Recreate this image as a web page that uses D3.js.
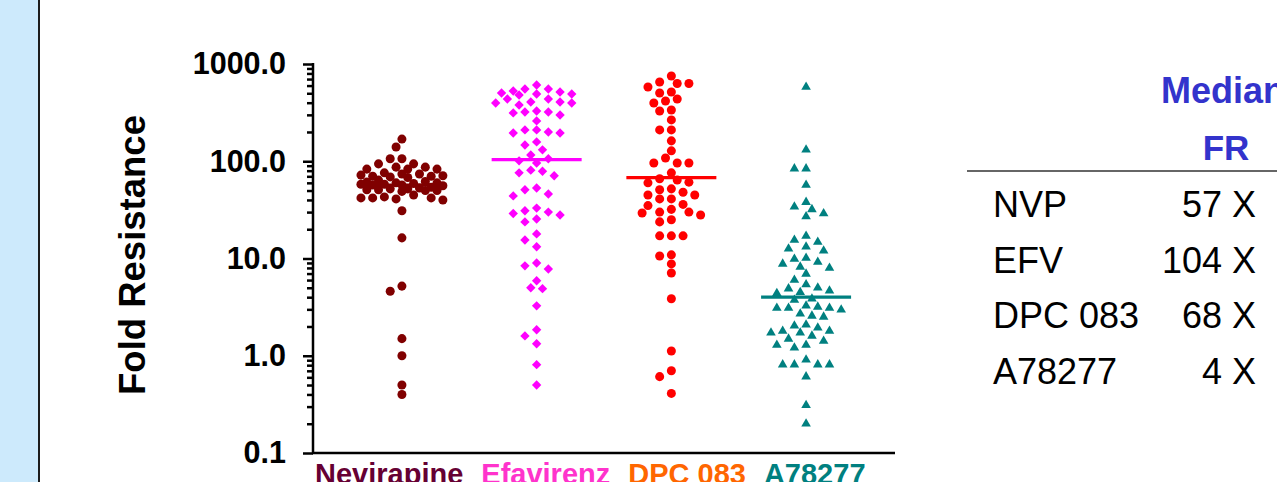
<!DOCTYPE html>
<html>
<head>
<meta charset="utf-8">
<script src="https://cdn.jsdelivr.net/npm/d3@7"></script>
<style>
  body { margin: 0; background: #fff; }
  svg { display: block; font-family: Arial, "Liberation Sans", sans-serif; }
</style>
</head>
<body>
<svg id="chart" width="1277" height="482"></svg>
<script>
// Drug groups and their colours
const categories = ["Nevirapine", "Efavirenz", "DPC 083", "A78277"];
const labelColors = ["#660033", "#ff33cc", "#ff6600", "#008080"];
const markColors = ["#800000", "#ff00ff", "#ff0000", "#008080"];

// Fold resistance of each isolate, per drug
const nevirapine = [169, 140, 106, 106, 94, 94, 87, 87, 83, 83, 83,
  76, 74, 74, 72, 71, 70, 70, 69, 68,
  64, 62, 61, 60, 60, 59, 58, 58, 57, 57, 56,
  54, 53, 52, 52, 51, 51, 50, 50, 49,
  45, 43, 42, 42, 42, 41, 40,
  31, 16.3, 5.2, 4.6, 1.5, 1.0, 0.5, 0.4];
const efavirenz = [608, 553, 516, 528, 553, 504, 492, 480, 492, 437, 407, 397, 379, 397, 407, 437,
  321, 314, 299, 321, 329,
  260,
  210, 195, 195, 200, 210,
  158, 147,
  131,
  116, 101, 96, 106,
  79, 71, 76, 81,
  53, 46, 44, 51,
  31, 29, 25.5, 23.8, 28, 30, 33,
  17.9, 15.5, 13.2,
  9.0, 7.8, 8.4, 5.9, 5.0, 4.9, 3.26, 1.85, 1.60, 1.33, 0.81, 0.50];
const dpc083 = [753, 653, 630, 630, 581, 516, 504, 437, 417, 397, 329, 337, 266, 210, 210, 162,
  128, 108, 96, 96, 96, 76,
  66, 64, 61, 60, 52, 51, 48, 45, 45, 41, 41, 36, 35, 32, 30, 29.4, 28, 30, 25, 23.8,
  17.1, 17.1, 17.1, 10.9, 10.6, 8.8, 7.1, 3.85, 1.12, 0.70, 0.61, 0.41];
const a78277 = [581, 131, 84, 84, 57, 38, 34, 32, 29, 27,
  17, 15.5, 14.8, 13.2, 12.6, 12.0,
  10.1, 9.9, 9.2, 8.8, 8.2, 8.0, 6.95, 6.0, 5.4,
  5.0, 4.9, 4.65, 4.5, 4.4,
  3.85, 3.75, 3.26, 3.18, 3.1, 3.1, 3.1, 2.97, 2.7, 2.57, 2.51,
  2.08, 2.03, 1.94, 1.80, 1.80, 1.72, 1.72, 1.60,
  1.49, 1.42, 1.29, 1.29, 1.21,
  0.91, 0.81, 0.81, 0.81, 0.81, 0.61, 0.31, 0.20];
const seriesValues = [nevirapine, efavirenz, dpc083, a78277];

// Median fold resistance per drug (table and median bars)
const tableNames = ["NVP", "EFV", "DPC 083", "A78277"];
const medians = [57, 104, 68, 4];

// Y axis decades
const yTicks = [0.1, 1, 10, 100, 1000];

const svg = d3.select("#chart");

// Side band of the slide
svg.append("rect").attr("x", 0).attr("y", 0).attr("width", 38).attr("height", 482).attr("fill", "#cdeafc");
svg.append("line").attr("x1", 39).attr("x2", 39).attr("y1", 0).attr("y2", 482)
  .attr("stroke", "#1c1c1c").attr("stroke-width", 2);

// Scales
const plotLeft = 313, plotRight = 895, plotTop = 64, plotBottom = 453;
const x = d3.scalePoint().domain(categories).range([plotLeft, plotRight]).padding(0.66);
const y = d3.scaleLog().domain([0.1, 1000]).range([plotBottom, plotTop]);

// Minor ticks (2..9 in each decade)
const minorTicks = [];
yTicks.slice(0, -1).forEach(d => { for (let m = 2; m <= 9; m++) minorTicks.push(d * m); });

const gAxis = svg.append("g").attr("transform", `translate(${plotLeft},0)`);
gAxis.call(d3.axisLeft(y).tickValues(minorTicks).tickSize(6).tickFormat(""))
  .call(g => g.select(".domain").remove());
gAxis.append("g").call(d3.axisLeft(y).tickValues(yTicks).tickSize(10).tickPadding(17)
  .tickFormat(d3.format(".1f")))
  .call(g => g.select(".domain").remove())
  .call(g => g.selectAll("text").attr("font-size", 30.5).attr("font-weight", "bold")
    .attr("font-family", "Arial, 'Liberation Sans', sans-serif").attr("fill", "#000"));
gAxis.selectAll(".tick line").attr("stroke", "#000").attr("stroke-width", 2.5);

// Axis lines
svg.append("line").attr("x1", plotLeft).attr("x2", plotLeft).attr("y1", plotTop - 1).attr("y2", plotBottom + 1)
  .attr("stroke", "#000").attr("stroke-width", 2.5);
svg.append("line").attr("x1", plotLeft - 1).attr("x2", plotRight).attr("y1", plotBottom).attr("y2", plotBottom)
  .attr("stroke", "#000").attr("stroke-width", 2.5);

// Y axis title
svg.append("text")
  .attr("transform", `translate(145,255) rotate(-90)`)
  .attr("text-anchor", "middle")
  .attr("font-size", 36.5).attr("font-weight", "bold").attr("fill", "#000")
  .text("Fold Resistance");

// Category labels, set as one line of coloured words
const catLine = svg.append("text").attr("x", 315).attr("y", 484)
  .attr("font-size", 29).attr("font-weight", "bold");
catLine.selectAll("tspan").data(categories).join("tspan")
  .attr("dx", (d, i) => i === 0 ? 0 : 18)
  .attr("fill", (d, i) => labelColors[i])
  .text(d => d);

// Beeswarm placement: each point takes the nearest free horizontal slot
// within a bounded width; when none is free, the least crowded slot is used.
function swarm(values, cx, step, minDist, maxK) {
  const pts = values.map(v => ({ v, y: y(v) })).sort((a, b) => a.y - b.y);
  const placed = [];
  for (const p of pts) {
    let best = null, bestGap = -1;
    for (let k = 0; k <= maxK && p.x === undefined; k++) {
      const offs = k === 0 ? [0] : [-k, k];
      for (const o of offs) {
        const px = cx + o * step;
        const gap = placed.length ? d3.min(placed, q => Math.hypot(q.x - px, q.y - p.y)) : Infinity;
        if (gap >= minDist) { p.x = px; break; }
        if (gap > bestGap) { bestGap = gap; best = px; }
      }
    }
    if (p.x === undefined) p.x = best;
    placed.push(p);
  }
  return pts;
}

const symbols = [
  d3.symbol().type(d3.symbolCircle).size(64),
  d3.symbol().type(d3.symbolSquare).size(44),
  d3.symbol().type(d3.symbolCircle).size(64),
  d3.symbol().type(d3.symbolTriangle).size(40)
];
const rotations = [0, 45, 0, 0];

seriesValues.forEach((vals, i) => {
  const pts = swarm(vals, x(categories[i]), 5.85, 9, 7);
  svg.append("g").selectAll("path").data(pts).join("path")
    .attr("d", symbols[i])
    .attr("transform", d => `translate(${d.x},${d.y}) rotate(${rotations[i]})`)
    .attr("fill", markColors[i]);
});

// Median bars
svg.append("g").selectAll("line").data(medians).join("line")
  .attr("x1", (d, i) => x(categories[i]) - 45)
  .attr("x2", (d, i) => x(categories[i]) + 45)
  .attr("y1", d => y(d)).attr("y2", d => y(d))
  .attr("stroke", (d, i) => markColors[i])
  .attr("stroke-width", 3.2);

// Median table
const tbl = svg.append("g");
tbl.append("text").attr("x", 1161).attr("y", 103)
  .attr("font-size", 36).attr("font-weight", "bold").attr("fill", "#3333cc").text("Median");
tbl.append("text").attr("x", 1226).attr("y", 160).attr("text-anchor", "middle")
  .attr("font-size", 35).attr("font-weight", "bold").attr("fill", "#3333cc").text("FR");
tbl.append("line").attr("x1", 967).attr("x2", 1277).attr("y1", 171).attr("y2", 171)
  .attr("stroke", "#333").attr("stroke-width", 1.6);
tbl.selectAll("text.name").data(tableNames).join("text").attr("class", "name")
  .attr("x", 993).attr("y", (d, i) => 217 + i * 55.5)
  .attr("font-size", 36).attr("fill", "#000").text(d => d);
tbl.selectAll("text.val").data(medians).join("text").attr("class", "val")
  .attr("x", 1256).attr("y", (d, i) => 217 + i * 55.5)
  .attr("text-anchor", "end")
  .attr("font-size", 36).attr("fill", "#000").text(d => `${d} X`);
</script>
</body>
</html>
